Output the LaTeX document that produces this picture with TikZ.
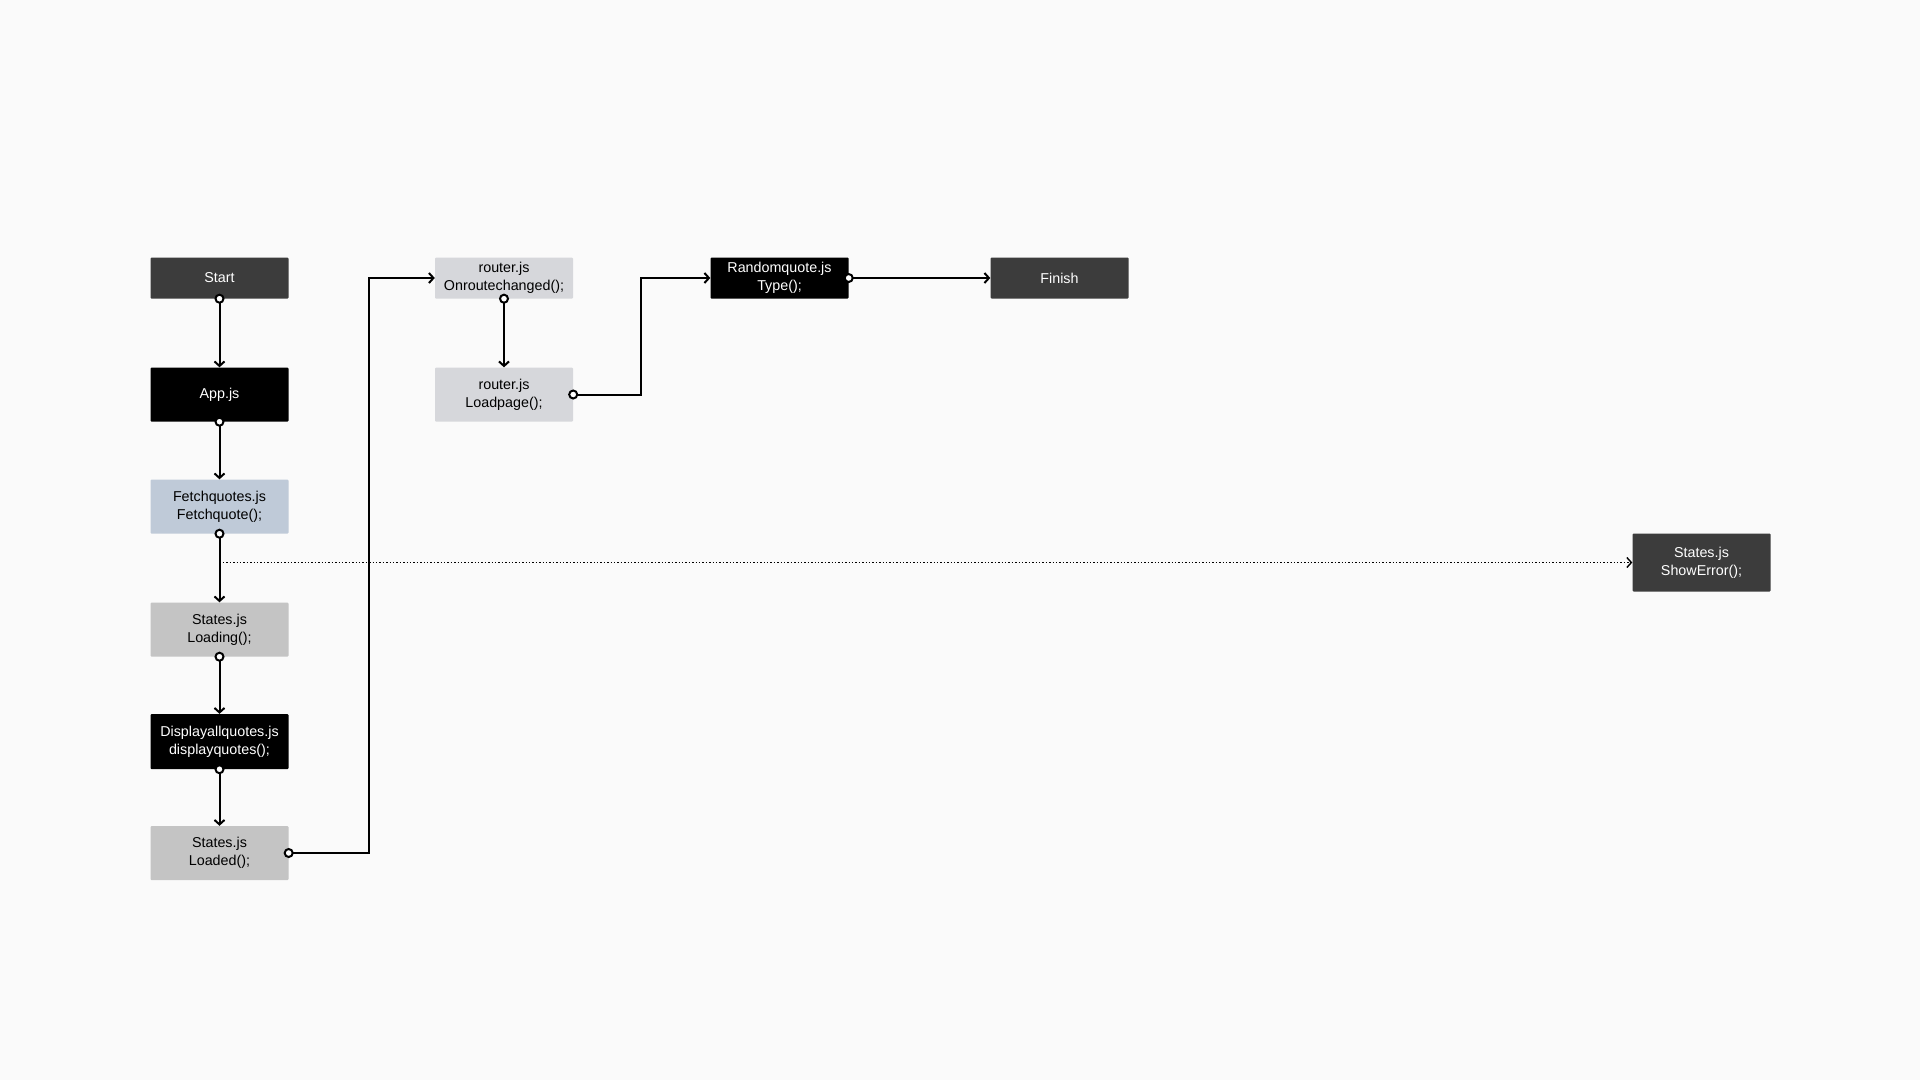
\documentclass[tikz,border=0pt]{standalone}
\usepackage{fontspec}
\setmainfont{Liberation Sans}
\usepackage{tikz}
\usetikzlibrary{
	arrows.meta,
	calc,
	positioning,
}
\definecolor{pagebg}{HTML}{FAFAFA}
\definecolor{darkgray}{HTML}{3C3C3C}
\definecolor{bluegray}{HTML}{BFCAD8}
\definecolor{midgray}{HTML}{C4C4C4}
\definecolor{paleg}{HTML}{D6D7DB}
\tikzset{
	base box/.style={
		rectangle,
		rounded corners=1pt,
		inner sep=0pt,
		minimum width=138pt,
		minimum height=54pt,
		align=center,
		font=\fontsize{14.3}{18}\selectfont,
	},
	short box/.style={base box, minimum height=41pt},
	dark box/.style={base box, fill=darkgray, text=white},
	black box/.style={base box, fill=black, text=white},
	blue box/.style={base box, fill=bluegray, text=black},
	gray box/.style={base box, fill=midgray, text=black},
	pale box/.style={base box, fill=paleg, text=black},
	flow/.style={
		line width=2pt,
		{Circle[open,fill=white,length=10pt,width=10pt]}-{Straight Barb[length=4.5pt,width=10pt]},
		shorten <=-5pt,
	},
	fail/.style={
		line width=1.4pt,
		dotted,
		-{Straight Barb[length=4.5pt,width=10pt]},
	},
}

\begin{document}
\begin{tikzpicture}[x=1pt,y=-1pt]
\fill[pagebg] (0,0) rectangle (1920,1080);

% left column
\node[dark box, short box] (start) at(219.5,278) {Start};
\node[black box] (app) at(219.5,394.5) {App.js};
\node[blue box] (fetch) at(219.5,506.5) {Fetchquotes.js\\Fetchquote();};
\node[gray box] (loading) at(219.5,629.5) {States.js\\Loading();};
\node[black box, minimum height=55pt] (display) at(219.5,741.5) {Displayallquotes.js\\displayquotes();};
\node[gray box] (loaded) at(219.5,853) {States.js\\Loaded();};

% router and the rest
\node[pale box, short box] (onroute) at(504,278) {router.js\\Onroutechanged();};
\node[pale box] (loadpage) at(504,394.5) {router.js\\Loadpage();};
\node[black box, short box] (random) at(779.5,278) {Randomquote.js\\Type();};
\node[dark box, short box] (finish) at(1059.5,278) {Finish};
\node[dark box, minimum height=58pt] (showerr) at(1701.5,562.5) {States.js\\ShowError();};

\coordinate (errfork) at(fetch.south |- showerr.west);

\foreach \u \v in {
	start/app,app/fetch,fetch/loading%
	,loading/display,display/loaded%
	,onroute/loadpage%
}{
	\draw[flow] (\u.south) -- (\v.north);
}

\draw[flow] (loaded.east) -- ++(80,0) |- (onroute.west);
\draw[flow] (loadpage.east) -- ++(68,0) |- (random.west);
\draw[flow] (random.east) -- (finish.west);

\draw[fail] (errfork) -- (showerr.west);

\end{tikzpicture}
\end{document}
